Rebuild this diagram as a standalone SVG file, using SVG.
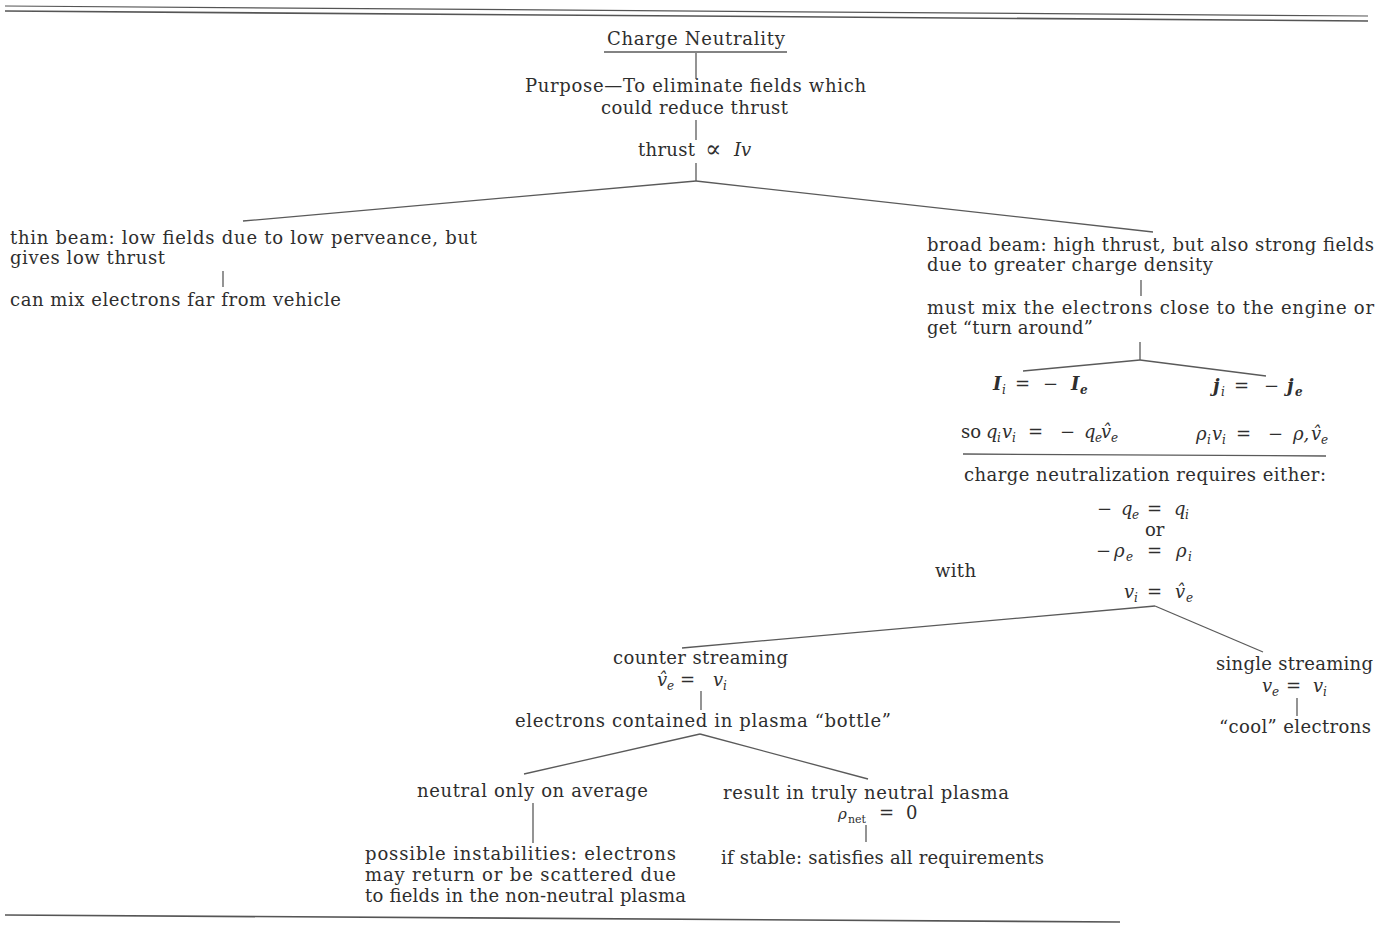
<svg xmlns="http://www.w3.org/2000/svg" width="1390" height="925" viewBox="0 0 1390 925">
<style>
text{font-family:"DejaVu Serif","Liberation Serif",serif;font-size:18px;fill:#2e2e2e}
.m{font-style:italic}
.b{font-weight:bold}
.s{font-size:12px;font-style:italic}
.c{stroke:#5a5a5a;stroke-width:1.3;fill:none}
.rule{stroke:#555;fill:none}
</style>
<rect width="1390" height="925" fill="#fff"/>
<g id="rules">
<line class="rule" x1="5" y1="6" x2="1368" y2="16" stroke-width="1.2"/>
<line class="rule" x1="5" y1="11" x2="1368" y2="21" stroke-width="1.6"/>
<line class="rule" x1="5" y1="915" x2="1120" y2="922" stroke-width="1.6"/>
</g>
<g id="connectors">
<line class="c" x1="604" y1="52" x2="787" y2="52"/>
<line class="c" x1="696" y1="53" x2="696" y2="79"/>
<line class="c" x1="696" y1="120" x2="696" y2="140"/>
<line class="c" x1="696" y1="163" x2="696" y2="181"/>
<line class="c" x1="696" y1="181" x2="243" y2="221"/>
<line class="c" x1="696" y1="181" x2="1153" y2="232"/>
<line class="c" x1="223" y1="271" x2="223" y2="287"/>
<line class="c" x1="1141" y1="280" x2="1141" y2="296"/>
<line class="c" x1="1140" y1="342" x2="1140" y2="360"/>
<line class="c" x1="1140" y1="360" x2="1023" y2="371"/>
<line class="c" x1="1140" y1="360" x2="1266" y2="376"/>
<line class="c" x1="963" y1="454" x2="1326" y2="456"/>
<line class="c" x1="1155" y1="606" x2="682" y2="648"/>
<line class="c" x1="1155" y1="606" x2="1263" y2="652"/>
<line class="c" x1="701" y1="691" x2="701" y2="710"/>
<line class="c" x1="700" y1="734" x2="524" y2="774"/>
<line class="c" x1="700" y1="734" x2="868" y2="779"/>
<line class="c" x1="533" y1="803" x2="533" y2="843"/>
<line class="c" x1="866" y1="825" x2="866" y2="842"/>
<line class="c" x1="1297" y1="698" x2="1297" y2="716"/>
</g>
<g id="title"><text x="607" y="45" textLength="178">Charge Neutrality</text></g>
<g id="purpose">
<text x="525" y="92" textLength="341">Purpose—To eliminate fields which</text>
<text x="601" y="114" textLength="187">could reduce thrust</text>
</g>
<g id="thrust">
<text x="638" y="156" textLength="57">thrust</text>
<text x="705" y="157" style="font-size:24px">∝</text>
<text x="734" y="156" class="m">Iv</text>
</g>
<g id="thin-beam">
<text x="10" y="244" textLength="467">thin beam: low fields due to low perveance, but</text>
<text x="10" y="264" textLength="155">gives low thrust</text>
</g>
<g id="mix-far"><text x="10" y="306" textLength="331">can mix electrons far from vehicle</text></g>
<g id="broad-beam">
<text x="927" y="251" textLength="447">broad beam: high thrust, but also strong fields</text>
<text x="927" y="271" textLength="286">due to greater charge density</text>
</g>
<g id="mix-close">
<text x="927" y="314" textLength="447">must mix the electrons close to the engine or</text>
<text x="927" y="334" textLength="166">get “turn around”</text>
</g>
<g id="eq-current">
<text x="993" y="390" class="m b">I</text><text x="1002" y="394" class="s">i</text>
<text x="1015" y="390">=</text><text x="1043" y="390">−</text>
<text x="1071" y="390" class="m b">I</text><text x="1080" y="394" class="s b">e</text>
</g>
<g id="eq-density">
<text x="1213" y="392" class="m b">j</text><text x="1221" y="396" class="s">i</text>
<text x="1234" y="392">=</text><text x="1264" y="392">−</text>
<text x="1287" y="392" class="m b">j</text><text x="1295" y="396" class="s b">e</text>
</g>
<g id="eq-so">
<text x="961" y="438">so</text>
<text x="986" y="438" class="m">q</text><text x="997" y="442" class="s">i</text>
<text x="1002" y="438" class="m">v</text><text x="1012" y="442" class="s">i</text>
<text x="1028" y="438">=</text><text x="1060" y="438">−</text>
<text x="1084" y="438" class="m">q</text><text x="1095" y="442" class="s">e</text>
<text x="1101" y="438" class="m">v̂</text><text x="1111" y="442" class="s">e</text>
</g>
<g id="eq-rho">
<text x="1196" y="440" class="m">ρ</text><text x="1207" y="444" class="s">i</text>
<text x="1212" y="440" class="m">v</text><text x="1222" y="444" class="s">i</text>
<text x="1236" y="440">=</text><text x="1268" y="440">−</text>
<text x="1293" y="440" class="m">ρ,</text>
<text x="1311" y="440" class="m">v̂</text><text x="1321" y="444" class="s">e</text>
</g>
<g id="requires"><text x="964" y="481" textLength="362">charge neutralization requires either:</text></g>
<g id="eq-q">
<text x="1097" y="515">−</text>
<text x="1121" y="515" class="m">q</text><text x="1132" y="519" class="s">e</text>
<text x="1147" y="515">=</text>
<text x="1174" y="515" class="m">q</text><text x="1185" y="519" class="s">i</text>
</g>
<g id="or"><text x="1145" y="536">or</text></g>
<g id="eq-rho2">
<text x="1096" y="557">−</text>
<text x="1114" y="557" class="m">ρ</text><text x="1126" y="561" class="s">e</text>
<text x="1147" y="557">=</text>
<text x="1176" y="557" class="m">ρ</text><text x="1188" y="561" class="s">i</text>
</g>
<g id="with"><text x="935" y="577" textLength="41">with</text></g>
<g id="eq-v">
<text x="1124" y="598" class="m">v</text><text x="1134" y="602" class="s">i</text>
<text x="1147" y="598">=</text>
<text x="1175" y="598" class="m">v̂</text><text x="1186" y="602" class="s">e</text>
</g>
<g id="counter">
<text x="613" y="664" textLength="175">counter streaming</text>
<text x="657" y="686" class="m">v̂</text><text x="667" y="690" class="s">e</text>
<text x="680" y="686">=</text>
<text x="713" y="686" class="m">v</text><text x="723" y="690" class="s">i</text>
</g>
<g id="bottle"><text x="515" y="727" textLength="376">electrons contained in plasma “bottle”</text></g>
<g id="average"><text x="417" y="797" textLength="231">neutral only on average</text></g>
<g id="instabilities">
<text x="365" y="860" textLength="311">possible  instabilities:  electrons</text>
<text x="365" y="881" textLength="311">may return or be scattered due</text>
<text x="365" y="902" textLength="321">to fields in the non-neutral plasma</text>
</g>
<g id="truly-neutral">
<text x="723" y="799" textLength="286">result in truly neutral plasma</text>
<text x="838" y="819" class="m" style="font-size:15px">ρ</text><text x="848" y="823" style="font-size:11px">net</text>
<text x="879" y="819">=</text><text x="906" y="819">0</text>
</g>
<g id="stable"><text x="721" y="864" textLength="323">if stable: satisfies all requirements</text></g>
<g id="single">
<text x="1216" y="670" textLength="157">single streaming</text>
<text x="1262" y="692" class="m">v</text><text x="1272" y="696" class="s">e</text>
<text x="1286" y="692">=</text>
<text x="1313" y="692" class="m">v</text><text x="1323" y="696" class="s">i</text>
</g>
<g id="cool"><text x="1219" y="733" textLength="152">“cool” electrons</text></g>
</svg>
